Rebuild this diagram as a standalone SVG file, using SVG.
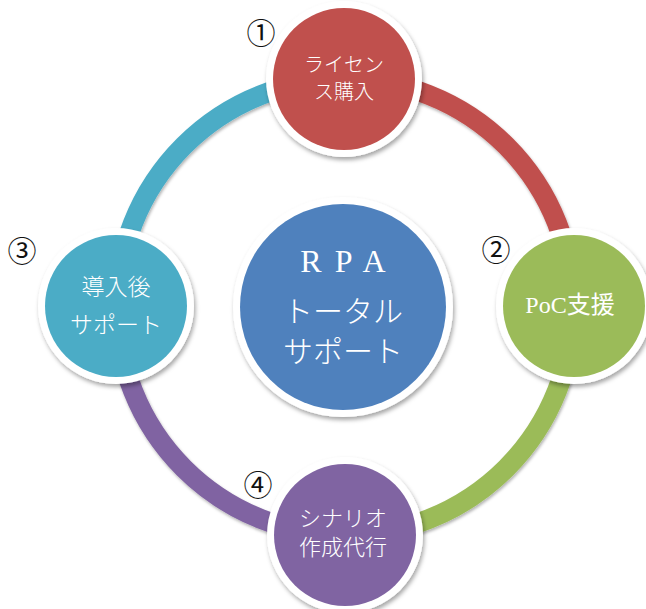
<svg xmlns="http://www.w3.org/2000/svg" width="646" height="609" viewBox="0 0 646 609">
  <defs>
    <filter id="sh" x="-20%" y="-20%" width="140%" height="140%">
      <feDropShadow dx="1.5" dy="3" stdDeviation="2.2" flood-color="#000" flood-opacity="0.35"/>
    </filter>
    <filter id="sha" x="-10%" y="-10%" width="120%" height="120%">
      <feDropShadow dx="1" dy="2" stdDeviation="1.5" flood-color="#000" flood-opacity="0.3"/>
    </filter>
  </defs>
  <style>
    .arc { fill: none; stroke-width: 20; filter: url(#sha); }
    .ring { fill: #fff; filter: url(#sh); }
    .lbl { fill: #fff; font-family: "Noto Sans CJK JP", "Noto Sans CJK SC", sans-serif; font-weight: 300; text-anchor: middle; }
    .num { fill: #111; font-family: "Noto Sans CJK JP", "DejaVu Sans", sans-serif; font-weight: normal; font-size: 29px; text-anchor: middle; }
    .lat { font-family: "Liberation Serif", "Noto Sans CJK JP", serif; font-weight: normal; }
  </style>
  <rect width="646" height="609" fill="#fff"/>
  <g id="connectors">
    <path class="arc" stroke="#C0504D" d="M345,79 A228,228 0 0 1 573,307"/>
    <path class="arc" stroke="#9BBB59" d="M573,307 A228,228 0 0 1 345,535"/>
    <path class="arc" stroke="#8064A2" d="M345,535 A228,228 0 0 1 117,307"/>
    <path class="arc" stroke="#4BACC6" d="M117,307 A228,228 0 0 1 345,79"/>
  </g>
  <g id="node-center">
    <circle class="ring" cx="343" cy="307" r="110"/>
    <circle cx="343" cy="307" r="103" fill="#4F81BD"/>
    <text class="lbl lat" x="349.5" y="272" font-size="32" letter-spacing="13">RPA</text>
    <text class="lbl" font-size="30"><tspan x="343" y="322">トータル</tspan><tspan x="343" y="362">サポート</tspan></text>
  </g>
  <g id="node-1">
    <circle class="ring" cx="344" cy="79" r="78"/>
    <circle cx="344" cy="79" r="71" fill="#C0504D"/>
    <text class="lbl" font-size="20"><tspan x="344" y="72">ライセン</tspan><tspan x="344" y="99">ス購入</tspan></text>
    <text class="num" x="261" y="44">①</text>
  </g>
  <g id="node-2">
    <circle class="ring" cx="574" cy="306" r="78"/>
    <circle cx="574" cy="306" r="71" fill="#9BBB59"/>
    <text class="lbl lat" x="570" y="313" font-size="24">PoC支援</text>
    <text class="num" x="496" y="261">②</text>
  </g>
  <g id="node-3">
    <circle class="ring" cx="116" cy="306" r="78"/>
    <circle cx="116" cy="306" r="71" fill="#4BACC6"/>
    <text class="lbl" font-size="23"><tspan x="116" y="295">導入後</tspan><tspan x="116" y="333">サポート</tspan></text>
    <text class="num" x="22" y="262">③</text>
  </g>
  <g id="node-4">
    <circle class="ring" cx="345" cy="535" r="78"/>
    <circle cx="345" cy="535" r="71" fill="#8064A2"/>
    <text class="lbl" font-size="22"><tspan x="343" y="526">シナリオ</tspan><tspan x="343" y="555">作成代行</tspan></text>
    <text class="num" x="258" y="496">④</text>
  </g>
</svg>
